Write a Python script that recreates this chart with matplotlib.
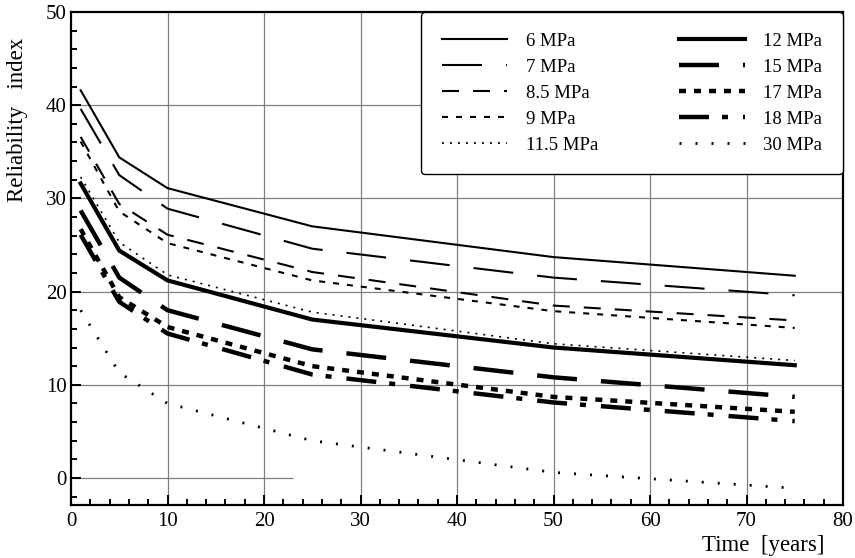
import matplotlib
matplotlib.use('Agg')
import matplotlib.pyplot as plt
from matplotlib.ticker import MultipleLocator

plt.rcParams['font.family'] = ['Liberation Serif', 'DejaVu Serif']
plt.rcParams['lines.scale_dashes'] = False

years = [1, 5, 10, 25, 50, 75]

mpa_6 = [41.6, 34.4, 31.1, 27.0, 23.7, 21.7]
mpa_7 = [39.6, 32.5, 28.9, 24.6, 21.5, 19.6]
mpa_8_5 = [36.6, 29.4, 26.1, 22.1, 18.5, 16.9]
mpa_9 = [36.1, 28.6, 25.2, 21.2, 17.9, 16.1]
mpa_11_5 = [32.3, 25.3, 21.8, 17.8, 14.4, 12.6]
mpa_12 = [31.6, 24.4, 21.2, 17.0, 14.0, 12.1]
mpa_15 = [28.7, 21.5, 18.0, 13.8, 10.8, 8.7]
mpa_17 = [26.7, 19.4, 16.2, 12.0, 8.7, 7.1]
mpa_18 = [26.1, 18.9, 15.5, 11.1, 8.1, 6.1]
mpa_30 = [18.0, 11.3, 8.0, 4.0, 0.6, -1.1]

labels = ['6 MPa', '7 MPa', '8.5 MPa', '9 MPa', '11.5 MPa',
          '12 MPa', '15 MPa', '17 MPa', '18 MPa', '30 MPa']
series = [mpa_6, mpa_7, mpa_8_5, mpa_9, mpa_11_5,
          mpa_12, mpa_15, mpa_17, mpa_18, mpa_30]

px = 72 / 100  # pixels -> points
styles = [
    dict(lw=1.5, dashes=None),
    dict(lw=1.5, dashes=(40 * px, 24 * px)),
    dict(lw=1.5, dashes=(17 * px, 14 * px)),
    dict(lw=1.5, dashes=(6 * px, 8 * px)),
    dict(lw=1.2, dashes=(2 * px, 6 * px)),
    dict(lw=3.0, dashes=None),
    dict(lw=3.2, dashes=(40 * px, 24 * px)),
    dict(lw=3.2, dashes=(7 * px, 8 * px)),
    dict(lw=3.2, dashes=(30 * px, 13 * px, 6 * px, 15 * px)),
    dict(lw=2.0, dashes=(2 * px, 14 * px)),
]

fig = plt.figure(figsize=(8.55, 5.58), dpi=100)
ax = fig.add_axes([71 / 855, 1 - 505 / 558, 772 / 855, 493 / 558])

# grid lines
for gx in range(10, 80, 10):
    ax.axvline(gx, color='#808080', lw=0.9, zorder=0)
for gy in range(10, 50, 10):
    ax.axhline(gy, color='#808080', lw=0.9, zorder=0)
ax.hlines(0, 0, 23, color='#808080', lw=0.9, zorder=0)

for vals, lab, st in zip(series, labels, styles):
    line, = ax.plot(years, vals, color='black', lw=st['lw'], label=lab)
    if st['dashes'] is not None:
        line.set_dashes(st['dashes'])

ax.set_xlim(0, 80)
ax.set_ylim(-2.9, 50)
ax.set_xticks(range(0, 81, 10))
ax.set_yticks(range(0, 51, 10))
ax.xaxis.set_minor_locator(MultipleLocator(2))
ax.yaxis.set_minor_locator(MultipleLocator(2))
ax.tick_params(which='both', direction='in', width=1.4, labelsize=15,
               top=False, right=False)
ax.tick_params(which='major', length=7)
ax.tick_params(which='minor', length=4.5)
ax.tick_params(axis='x', pad=5)
ax.tick_params(axis='y', pad=3)
for sp in ax.spines.values():
    sp.set_linewidth(1.6)

fig.text(17 / 855, 1 - 120 / 558, 'Reliability   index', rotation=90,
         ha='center', va='center', fontsize=16.5)
fig.text(824 / 855, 1 - 545 / 558, 'Time  [years]', ha='right',
         va='center', fontsize=16.5)

leg = ax.legend(ncol=2, loc='upper right', bbox_to_anchor=(1, 1),
                borderaxespad=0, fontsize=13.5, handlelength=3.5,
                handletextpad=1.0, columnspacing=4.3, labelspacing=0.47,
                borderpad=1.1, fancybox=True, framealpha=1)
leg.get_frame().set_edgecolor('black')
leg.get_frame().set_linewidth(1.0)

fig.savefig('out.png', dpi=100)
